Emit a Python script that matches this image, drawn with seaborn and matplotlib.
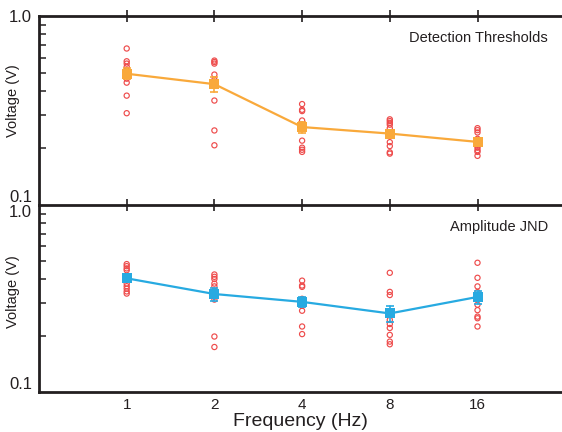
import numpy as np
import pandas as pd
import seaborn as sns
import matplotlib.pyplot as plt
from matplotlib.ticker import FixedLocator, NullFormatter, NullLocator

sns.set_style("ticks")
plt.rcParams['font.family'] = ['Liberation Sans', 'DejaVu Sans']

# individual subject values (one list per frequency)
freqs = [1, 2, 4, 8, 16]
detection = [
    [0.673, 0.576, 0.560, 0.538, 0.516, 0.491, 0.466, 0.444, 0.379, 0.306],
    [0.581, 0.571, 0.560, 0.490, 0.460, 0.450, 0.435, 0.357, 0.248, 0.207],
    [0.342, 0.319, 0.314, 0.280, 0.266, 0.257, 0.219, 0.201, 0.196, 0.191],
    [0.284, 0.278, 0.272, 0.266, 0.255, 0.235, 0.215, 0.205, 0.190, 0.187],
    [0.255, 0.249, 0.242, 0.224, 0.212, 0.206, 0.201, 0.195, 0.191, 0.182],
]
jnd = [
    [0.483, 0.471, 0.458, 0.448, 0.408, 0.380, 0.368, 0.357, 0.345, 0.336],
    [0.425, 0.413, 0.402, 0.380, 0.367, 0.348, 0.323, 0.312, 0.198, 0.174],
    [0.394, 0.371, 0.365, 0.315, 0.304, 0.296, 0.289, 0.272, 0.224, 0.204],
    [0.434, 0.343, 0.330, 0.262, 0.243, 0.231, 0.220, 0.202, 0.186, 0.180],
    [0.491, 0.408, 0.367, 0.342, 0.323, 0.293, 0.274, 0.253, 0.248, 0.224],
]
titles = ["Detection Thresholds", "Amplitude JND"]
line_colors = ["#F9A93B", "#27AAE1"]
dot_color = "#EE4B4B"
ink = "#231F20"


def to_frame(values):
    rows = [(f, v) for f, vs in zip(freqs, values) for v in vs]
    return pd.DataFrame(rows, columns=["freq", "volt"])


fig = plt.figure(figsize=(5.62, 4.32), dpi=100)
W, H = 562, 432
ax_bot = fig.add_axes([39 / W, 1 - 392 / H, 1 - 39 / W, 187 / H])
ax_top = fig.add_axes([39 / W, 1 - 205 / H, 1 - 39 / W, 189 / H])
ax_top.patch.set_visible(False)
ax_bot.patch.set_visible(False)

for i, (ax, vals) in enumerate(zip([ax_top, ax_bot], [detection, jnd])):
    df = to_frame(vals)
    sns.scatterplot(data=df, x="freq", y="volt", ax=ax, marker="o", s=14,
                    facecolors="none", edgecolors=dot_color, linewidth=0.85,
                    zorder=2)
    sns.lineplot(data=df, x="freq", y="volt", ax=ax, estimator="mean",
                 errorbar="se", err_style="bars", color=line_colors[i],
                 marker="s", markersize=7, markeredgewidth=0, linewidth=1.6,
                 err_kws={"capsize": 3, "elinewidth": 1.2, "capthick": 1.2},
                 zorder=3)
    # scales set after plotting so means/SE are arithmetic
    ax.set_xscale("log", base=2)
    ax.set_yscale("log")
    ax.set_xlim(0.5, 31.2)
    ax.set_ylim(0.1, 1.0)
    ax.xaxis.set_minor_locator(NullLocator())
    ax.set_xticks(freqs)
    ax.set_xticklabels([str(f) for f in freqs])
    ax.set_yticks([0.1, 1.0])
    ax.set_yticklabels(["0.1", "1.0"])
    ax.yaxis.set_minor_locator(FixedLocator([0.2, 0.3, 0.4, 0.5, 0.6, 0.7, 0.8, 0.9]))
    ax.yaxis.set_minor_formatter(NullFormatter())
    ax.tick_params(axis="y", which="major", length=0, pad=5, labelsize=12,
                   labelcolor=ink)
    ax.tick_params(axis="y", which="minor", direction="in", length=5,
                   width=1.1, color=ink)
    ax.set_ylabel("Voltage (V)", fontsize=10.5, color=ink)
    ax.set_xlabel("")
    ax.spines["right"].set_visible(False)
    for s in ["left", "bottom", "top"]:
        ax.spines[s].set_linewidth(2)
        ax.spines[s].set_color(ink)
    ax.text(0.973, 0.883, titles[i], transform=ax.transAxes, ha="right",
            va="center", fontsize=10.5, color=ink)

ax_top.yaxis.set_label_coords(-0.036, 0.55)
ax_bot.yaxis.set_label_coords(-0.036, 0.537)

ax_top.tick_params(axis="x", which="major", top=True, bottom=True,
                   direction="inout", length=8, width=1.2, color=ink,
                   labelbottom=False)
ax_bot.spines["top"].set_visible(False)
ax_bot.tick_params(axis="x", which="major", length=0, pad=4, labelsize=11,
                   labelcolor=ink)
ax_bot.set_xlabel("Frequency (Hz)", fontsize=14, color=ink, labelpad=1)

# nudge the end labels so they sit inside their panels
ax_top.get_yticklabels()[0].set_va("bottom")
ax_bot.get_yticklabels()[0].set_va("bottom")
ax_bot.get_yticklabels()[1].set_va("top")

fig.savefig("out.png", dpi=100)
